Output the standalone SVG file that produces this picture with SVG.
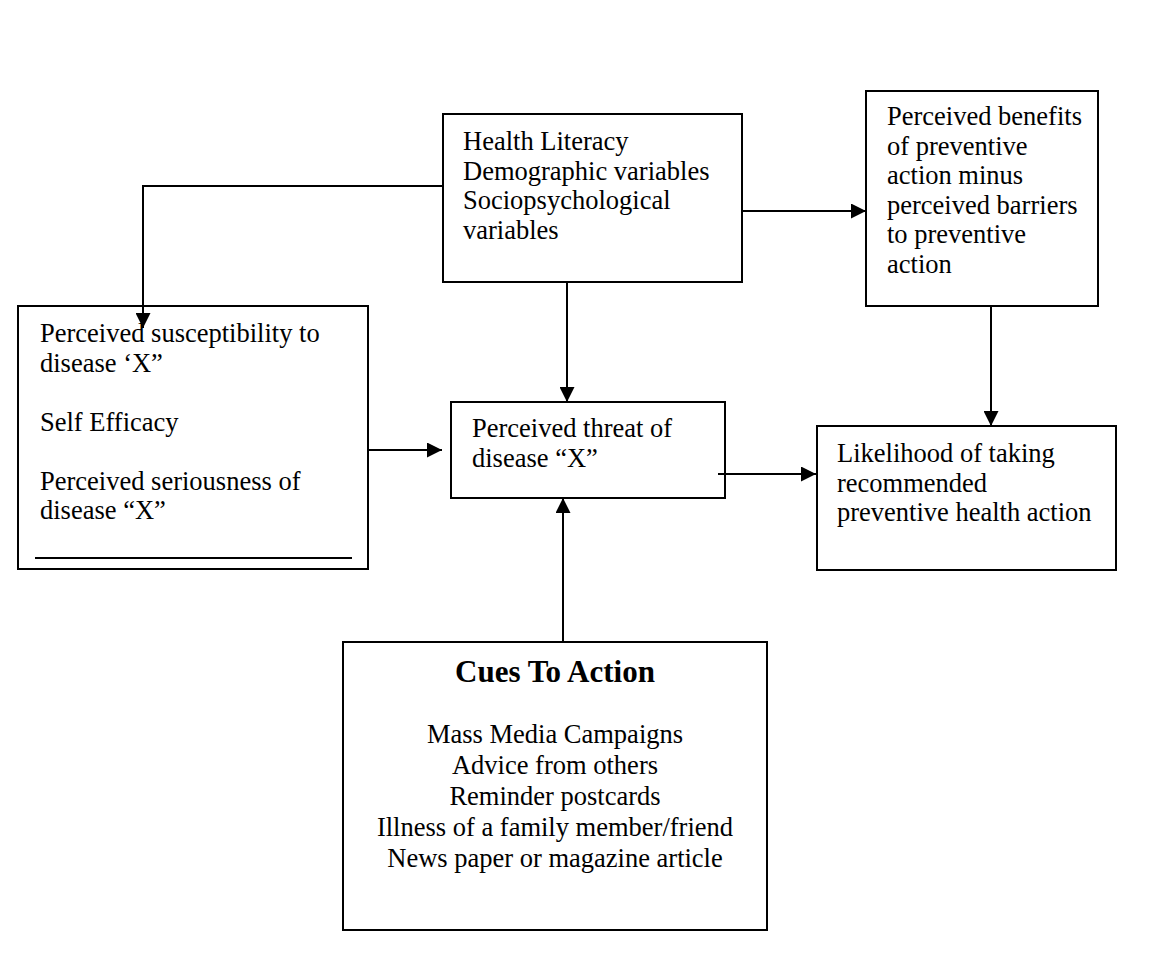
<svg xmlns="http://www.w3.org/2000/svg" width="1160" height="973" viewBox="0 0 1160 973">
<style>
.box{fill:#fff;stroke:#000;stroke-width:2}
.t{font-family:"Liberation Serif","Times New Roman",serif;font-size:26.5px;fill:#000}
.c{text-anchor:middle}
.h{font-weight:bold;font-size:31px}
.ln{fill:none;stroke:#000;stroke-width:2}
</style>
<defs>
<marker id="ah" markerUnits="userSpaceOnUse" markerWidth="15" markerHeight="15" refX="15" refY="7.5" orient="auto">
<path d="M0,0 L15,7.5 L0,15 z" fill="#000"/>
</marker>
</defs>
<rect width="1160" height="973" fill="#fff"/>
<g id="health-literacy">
<rect class="box" x="443" y="114" width="299" height="168"/>
<text class="t" x="463" y="150">Health Literacy</text>
<text class="t" x="463" y="179.5">Demographic variables</text>
<text class="t" x="463" y="209">Sociopsychological</text>
<text class="t" x="463" y="238.5">variables</text>
</g>
<g id="perceived-benefits">
<rect class="box" x="866" y="91" width="232" height="215"/>
<text class="t" x="887" y="125">Perceived benefits</text>
<text class="t" x="887" y="154.5">of preventive</text>
<text class="t" x="887" y="184">action minus</text>
<text class="t" x="887" y="213.5">perceived barriers</text>
<text class="t" x="887" y="243">to preventive</text>
<text class="t" x="887" y="272.5">action</text>
</g>
<g id="susceptibility">
<rect class="box" x="18" y="306" width="350" height="263"/>
<text class="t" x="40" y="342">Perceived susceptibility to</text>
<text class="t" x="40" y="371.5">disease ‘X”</text>
<text class="t" x="40" y="430.5">Self Efficacy</text>
<text class="t" x="40" y="489.5">Perceived seriousness of</text>
<text class="t" x="40" y="519">disease “X”</text>
<line class="ln" x1="35" y1="558" x2="352" y2="558"/>
</g>
<g id="threat">
<rect class="box" x="451" y="402" width="274" height="96"/>
<text class="t" x="472" y="437">Perceived threat of</text>
<text class="t" x="472" y="467">disease “X”</text>
</g>
<g id="likelihood">
<rect class="box" x="817" y="426" width="299" height="144"/>
<text class="t" x="837" y="462">Likelihood of taking</text>
<text class="t" x="837" y="491.5">recommended</text>
<text class="t" x="837" y="521">preventive health action</text>
</g>
<g id="cues">
<rect class="box" x="343" y="642" width="424" height="288"/>
<text class="t c h" x="555" y="682">Cues To Action</text>
<text class="t c" x="555" y="743">Mass Media Campaigns</text>
<text class="t c" x="555" y="774">Advice from others</text>
<text class="t c" x="555" y="805">Reminder postcards</text>
<text class="t c" x="555" y="836">Illness of a family member/friend</text>
<text class="t c" x="555" y="867">News paper or magazine article</text>
</g>
<g id="connectors">
<path class="ln" d="M443,186 H143 V328" marker-end="url(#ah)"/>
<path class="ln" d="M742,211 H866" marker-end="url(#ah)"/>
<path class="ln" d="M368,450 H442" marker-end="url(#ah)"/>
<path class="ln" d="M567,282 V402" marker-end="url(#ah)"/>
<path class="ln" d="M718,474 H816" marker-end="url(#ah)"/>
<path class="ln" d="M991,306 V426" marker-end="url(#ah)"/>
<path class="ln" d="M563,642 V498" marker-end="url(#ah)"/>
</g>
</svg>
